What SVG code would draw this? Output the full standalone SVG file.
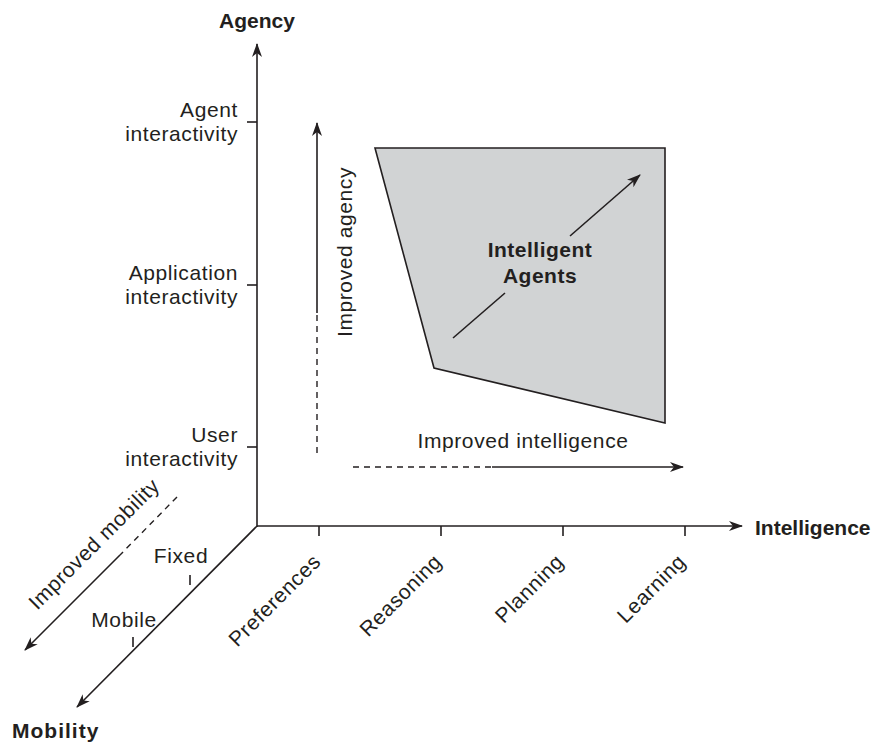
<svg xmlns="http://www.w3.org/2000/svg" width="882" height="746" viewBox="0 0 882 746">
<defs>
<marker id="ah" viewBox="0 0 14 10" refX="13" refY="5" markerWidth="14" markerHeight="10" markerUnits="userSpaceOnUse" orient="auto">
<path d="M0,0 L14,5 L0,10 L4,5 Z" fill="#231f20"/>
</marker>
<style>
.ln{stroke:#231f20;stroke-width:1.6;fill:none}
.dash{stroke:#231f20;stroke-width:1.4;fill:none;stroke-dasharray:6,5}
.t{font-family:"Liberation Sans",Arial,sans-serif;font-size:21px;fill:#231f20;letter-spacing:0.6px}
.b{font-family:"Liberation Sans",Arial,sans-serif;font-size:21px;font-weight:bold;fill:#231f20}
.r{text-anchor:end}
.m{text-anchor:middle}
</style>
</defs>
<rect width="882" height="746" fill="#ffffff"/>

<g id="region-intelligent-agents">
<polygon points="375,148 665,148 665,423 434,368" fill="#d1d3d4" stroke="#231f20" stroke-width="1.6"/>
<text class="b m" x="540" y="257" style="letter-spacing:0.5px">Intelligent</text>
<text class="b m" x="540" y="283" style="letter-spacing:0.5px">Agents</text>
</g>

<g id="axes">
<line class="ln" x1="257" y1="527" x2="257" y2="44" marker-end="url(#ah)"/>
<line class="ln" x1="257" y1="526" x2="742" y2="526" marker-end="url(#ah)"/>
<line class="ln" x1="257" y1="526" x2="77" y2="707" marker-end="url(#ah)"/>
<line class="ln" x1="247" y1="122" x2="257" y2="122"/>
<line class="ln" x1="247" y1="285" x2="257" y2="285"/>
<line class="ln" x1="247" y1="447" x2="257" y2="447"/>
<line class="ln" x1="319" y1="526" x2="319" y2="536"/>
<line class="ln" x1="441" y1="526" x2="441" y2="536"/>
<line class="ln" x1="563" y1="526" x2="563" y2="536"/>
<line class="ln" x1="685" y1="526" x2="685" y2="536"/>
<line class="ln" x1="190" y1="575" x2="190" y2="585"/>
<line class="ln" x1="133" y1="637" x2="133" y2="647"/>
</g>

<g id="axis-labels">
<text class="b m" x="257" y="28">Agency</text>
<text class="b" x="755" y="535">Intelligence</text>
<text class="b" x="12" y="738" style="letter-spacing:1px">Mobility</text>
</g>

<g id="agency-levels">
<text class="t r" x="238" y="117">Agent</text>
<text class="t r" x="238" y="141">interactivity</text>
<text class="t r" x="238" y="280">Application</text>
<text class="t r" x="238" y="304">interactivity</text>
<text class="t r" x="238" y="442">User</text>
<text class="t r" x="238" y="466">interactivity</text>
</g>

<g id="intelligence-levels">
<text class="t r" transform="translate(322,563) rotate(-45)">Preferences</text>
<text class="t r" transform="translate(443,563) rotate(-45)">Reasoning</text>
<text class="t r" transform="translate(565,563) rotate(-45)">Planning</text>
<text class="t r" transform="translate(687,563) rotate(-45)">Learning</text>
</g>

<g id="mobility-levels">
<text class="t m" x="181" y="563">Fixed</text>
<text class="t m" x="124" y="627">Mobile</text>
</g>

<g id="connectors">
<line class="dash" x1="317" y1="453" x2="317" y2="313"/>
<line class="ln" x1="317" y1="313" x2="317" y2="123" marker-end="url(#ah)"/>
<line class="dash" x1="353" y1="467" x2="492" y2="467"/>
<line class="ln" x1="492" y1="467" x2="683" y2="467" marker-end="url(#ah)"/>
<line class="dash" x1="177" y1="497" x2="120" y2="555"/>
<line class="ln" x1="120" y1="555" x2="25" y2="650" marker-end="url(#ah)"/>
<line class="ln" x1="453" y1="338" x2="505" y2="293"/>
<line class="ln" x1="570" y1="236" x2="640" y2="175" marker-end="url(#ah)"/>
</g>

<g id="connector-labels">
<text class="t m" transform="translate(352,252) rotate(-90)">Improved agency</text>
<text class="t m" x="523" y="448">Improved intelligence</text>
<text class="t m" transform="translate(99,549) rotate(-45)">Improved mobility</text>
</g>
</svg>
